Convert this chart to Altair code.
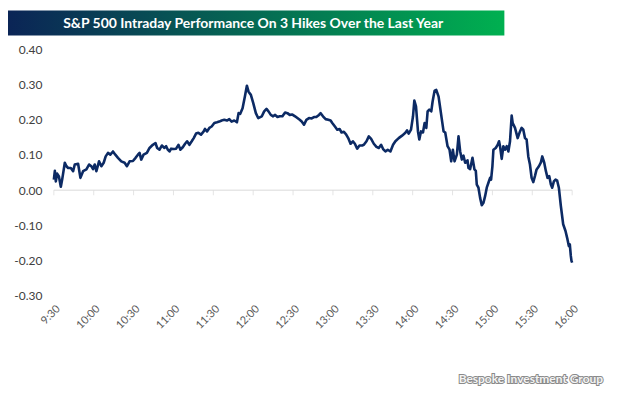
import json
import altair as alt
import pandas as pd

title_text = "S&P 500 Intraday Performance On 3 Hikes Over the Last Year"
source_text = "Bespoke Investment Group"

tick_labels = ["9:30", "10:00", "10:30", "11:00", "11:30", "12:00", "12:30",
               "13:00", "13:30", "14:00", "14:30", "15:00", "15:30", "16:00"]
y_ticks = [-0.30, -0.20, -0.10, 0.00, 0.10, 0.20, 0.30, 0.40]

# minutes after 9:30 and performance (%)
minutes = [
    0, 0.75, 1.5, 2.5, 3.75, 5.25, 6.25, 8.25, 9.5, 10.75, 12.75, 14.5, 15.75, 18.25, 20, 22,
    24.5, 26.5, 28.25, 29.5, 30.75, 32, 34, 35.75, 37.5, 39, 40.75, 42.5, 44.5, 46.25, 48.25,
    50.75, 53.25, 55, 57, 59.5, 61.5, 63.25, 64.5, 65.75, 67.5, 70, 72, 74.5, 76.5,
    77.75, 79.5, 81.25, 83.25, 84.5, 85.75, 87, 88.25, 90.25, 92, 93.75, 95.25, 97, 98.75,
    100.25, 102, 103.75, 105.25, 107, 108.75, 110.75, 112.75, 113.75, 115.25, 117, 118.75,
    120.75, 122.75, 124.5, 126.25, 128.25, 130.25, 132, 133.75, 135.75, 137.75, 139, 140.25,
    142, 143.75, 145.25, 146.5, 148.25, 150, 152, 153.75,
    156.5, 158.25, 160, 161.5, 163.25, 165, 166.5, 168.25, 170, 172, 174, 175.75, 177.5,
    179.5, 181.5, 183.25, 185, 186.5, 188.25, 190, 192, 194, 195.75, 197.5, 199.5, 200.75,
    202.5, 204.5, 206.5, 208.25, 209.5, 211.5, 213.25, 215, 216.5, 218.25, 220, 221.5,
    223.25, 225, 226.5, 228.25, 230, 232,
    233.25, 235.25, 237, 238.75, 240.75, 242.75, 244.5, 246.25, 247.75, 249.5, 251.25,
    253.25, 255.25, 257, 259.5, 262, 264.5, 265.75, 267, 268.75, 270.25, 271.25, 272.5, 274,
    275, 276.25, 277.75, 279, 280.25, 281.25, 282.5, 284, 285, 286.5, 287.75, 289.5, 290.75,
    292, 293.25, 294.5, 296.25, 297.75, 299, 300.25, 301.5, 303.25, 304.5, 305.75, 307,
    308.25, 309.5, 311.25,
    312, 313.25, 315, 316.5, 317.5, 318.25, 319.5, 320.75, 322, 323.25, 324.5, 325.75, 327,
    328.25, 329, 330, 330.75, 332.5, 334, 335, 335.75, 337, 338.25, 339.5, 340.75, 342,
    343.25, 344.5, 345.25, 347, 349, 350.75, 352, 353.25, 354.5, 355.75, 357, 358.25, 359.5,
    360.75, 362, 363.25, 365, 366.5, 367.5, 369, 370.25, 371.5, 372.75, 374, 375, 376.25,
    377.5, 378.75, 380, 381.5, 383.25, 385, 386.5, 387.5, 388.25, 389, 389.5, 390,
]
values = [
    0.030, 0.055, 0.025, 0.047, 0.040, 0.010, 0.030, 0.078, 0.068, 0.063, 0.063, 0.054, 0.073, 0.075, 0.035, 0.054,
    0.059, 0.073, 0.068, 0.060, 0.073, 0.054, 0.082, 0.068, 0.078, 0.096, 0.106, 0.101, 0.110, 0.101, 0.092,
    0.082, 0.078, 0.068, 0.082, 0.083, 0.092, 0.101, 0.106, 0.087, 0.101, 0.106, 0.120, 0.129, 0.134,
    0.120, 0.115, 0.127, 0.120, 0.125, 0.115, 0.110, 0.118, 0.117, 0.118, 0.129, 0.115, 0.122, 0.132,
    0.139, 0.129, 0.139, 0.148, 0.161, 0.163, 0.158, 0.167, 0.174, 0.167, 0.177, 0.181,
    0.191, 0.193, 0.195, 0.198, 0.200, 0.198, 0.202, 0.195, 0.198, 0.193, 0.219, 0.217,
    0.233, 0.266, 0.297, 0.280, 0.271, 0.248, 0.219, 0.205,
    0.210, 0.224, 0.231, 0.224, 0.214, 0.210, 0.214, 0.208, 0.210, 0.210, 0.221, 0.219, 0.214,
    0.215, 0.210, 0.205, 0.200, 0.195, 0.186, 0.200, 0.205, 0.204, 0.208, 0.208, 0.214, 0.219,
    0.210, 0.202, 0.200, 0.198, 0.191, 0.181, 0.172, 0.174, 0.164, 0.166, 0.158, 0.148,
    0.132, 0.139, 0.132, 0.118, 0.127, 0.127,
    0.129, 0.139, 0.153, 0.146, 0.132, 0.123, 0.120, 0.129, 0.117, 0.110, 0.115,
    0.110, 0.129, 0.139, 0.148, 0.155, 0.163, 0.170, 0.161, 0.172, 0.210, 0.255, 0.238, 0.167,
    0.144, 0.167, 0.164, 0.191, 0.177, 0.224, 0.229, 0.224, 0.252, 0.283, 0.285, 0.266, 0.233,
    0.200, 0.167, 0.164, 0.125, 0.115, 0.082, 0.115, 0.082, 0.101, 0.153, 0.110, 0.087,
    0.098, 0.078, 0.085,
    0.063, 0.060, 0.092, 0.059, 0.055, 0.016, 0.007, -0.022, -0.043, -0.036, -0.017, 0.007, 0.021,
    0.035, 0.030, 0.068, 0.115, 0.120, 0.129, 0.139, 0.125, 0.089, 0.125, 0.115, 0.125, 0.110,
    0.139, 0.212, 0.191, 0.177, 0.148, 0.167, 0.177, 0.172, 0.148, 0.144, 0.096, 0.073, 0.035,
    0.023, 0.040, 0.059, 0.068, 0.079, 0.096, 0.078, 0.054, 0.035, 0.040, 0.016, 0.007, 0.025,
    0.030, 0.027, 0.007, -0.045, -0.097, -0.116, -0.140, -0.159, -0.154, -0.187, -0.201, -0.206,
]

df = pd.DataFrame({"m": minutes, "v": values})
ticks_df = pd.DataFrame({"m": [i * 30 for i in range(len(tick_labels))], "v": 0.0})
zero_df = pd.DataFrame({"v": [0.0]})
title_df = pd.DataFrame({"t": [title_text]})
source_df = pd.DataFrame({"t": [source_text]})

label_expr = json.dumps(tick_labels) + "[round(datum.value/30)]"
x_dom = [0, (len(tick_labels) - 1) * 30]
x_scale = alt.Scale(domain=x_dom, nice=False, zero=False)
y_scale = alt.Scale(domain=[y_ticks[0], y_ticks[-1]], nice=False, zero=False)

x_axis = alt.Axis(values=[i * 30 for i in range(len(tick_labels))], labelExpr=label_expr,
                  labelAngle=-45, ticks=False, domain=False, grid=False,
                  labelOverlap=False, labelBound=False,
                  labelPadding=7, labelFontSize=11, labelColor="#595959",
                  labelFont="Lato", title=None)
y_axis = alt.Axis(values=y_ticks, format=".2f",
                  labelExpr="replace(format(datum.value, '.2f'), '\u2212', '-')",
                  labelOverlap=False, labelBound=False,
                  grid=False, ticks=False, domain=False, labelPadding=12,
                  labelFontSize=12, labelColor="#404040", labelFont="Lato", title=None)

x_enc = alt.X("m:Q", scale=x_scale, axis=x_axis)
y_enc = alt.Y("v:Q", scale=y_scale, axis=y_axis)

line = alt.Chart(df).mark_line(color="#0c2a64", strokeWidth=2.6,
                               strokeJoin="round").encode(x=x_enc, y=y_enc)
zero_line = alt.Chart(zero_df).mark_rule(color="#d9d9d9", strokeWidth=1).encode(y=y_enc)
tick_marks = alt.Chart(ticks_df).mark_tick(orient="vertical", size=5, thickness=1,
                                           yOffset=2.5, color="#d9d9d9").encode(x=x_enc, y=y_enc)

bar = alt.Chart(title_df).mark_rect(
    color=alt.Gradient(gradient="linear",
                       stops=[alt.GradientStop(color="#0b2356", offset=0),
                              alt.GradientStop(color="#00b050", offset=1)],
                       x1=0, x2=1, y1=0, y2=0)
).encode(x=alt.value(-51), x2=alt.value(452), y=alt.value(-39), y2=alt.value(-14))
title = alt.Chart(title_df).mark_text(font="Lato", fontWeight="bold", fontSize=14, color="white",
                                      align="center", baseline="middle").encode(
    x=alt.value(200), y=alt.value(-26), text="t:N")

src_shadow = alt.Chart(source_df).mark_text(font="Lato", fontWeight="bold", fontSize=12,
                                            color="#8a8a8a", stroke="#8a8a8a", strokeWidth=2,
                                            align="right", baseline="alphabetic").encode(
    x=alt.value(551), y=alt.value(335), text="t:N")
src = alt.Chart(source_df).mark_text(font="Lato", fontWeight="bold", fontSize=12,
                                     color="#f4f4f4", align="right", baseline="alphabetic").encode(
    x=alt.value(551), y=alt.value(335), text="t:N")

chart = alt.layer(zero_line, tick_marks, line, bar, title, src_shadow, src).properties(
    width=520, height=247,
    padding={"left": 46, "top": 41, "right": 45, "bottom": 93},
    autosize=alt.AutoSizeParams(type="none"),
    background="white",
).configure_view(stroke=None)

chart.save("out.html", embed_options={"renderer": "svg", "actions": False})
